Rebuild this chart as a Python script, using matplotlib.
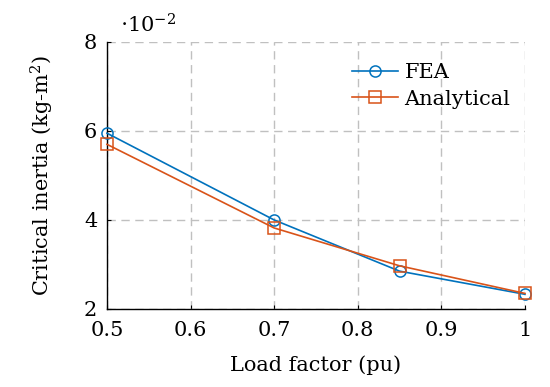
import matplotlib
matplotlib.use("Agg")
import matplotlib.pyplot as plt

load_factor = [0.5, 0.7, 0.85, 1.0]
fea = [5.95, 4.0, 2.85, 2.33]
analytical = [5.7, 3.82, 2.97, 2.35]
xticks = [0.5, 0.6, 0.7, 0.8, 0.9, 1.0]
xticklabels = ["0.5", "0.6", "0.7", "0.8", "0.9", "1"]
yticks = [2, 4, 6, 8]

plt.rcParams['font.family'] = ['DejaVu Serif']
plt.rcParams['mathtext.fontset'] = 'dejavuserif'

FS = 15

fig = plt.figure(figsize=(5.5, 3.87), dpi=100)
ax = fig.add_axes([0.1945, 0.2016, 0.76, 0.69])

ax.plot(load_factor, fea, color='#0072BD', lw=1.2, marker='o', ms=8,
        fillstyle='none', mew=1.1, label='FEA', clip_on=False, zorder=3)
ax.plot(load_factor, analytical, color='#D95319', lw=1.2, marker='s', ms=8,
        fillstyle='none', mew=1.1, label='Analytical', clip_on=False, zorder=3)

ax.set_xlim(0.5, 1.0)
ax.set_ylim(2, 8)
ax.set_xticks(xticks)
ax.set_xticklabels(xticklabels)
ax.set_yticks(yticks)
ax.grid(True, color='#c0c0c0', linestyle=(0, (6, 4)), lw=1.0)
ax.set_axisbelow(True)
for s in ['top', 'right']:
    ax.spines[s].set_visible(False)
for s in ['left', 'bottom']:
    ax.spines[s].set_linewidth(1.0)
ax.tick_params(direction='in', length=3, labelsize=FS)
ax.tick_params(axis='x', pad=9)
ax.tick_params(axis='y', pad=7)

ax.set_xlabel('Load factor (pu)', fontsize=FS, labelpad=11)
ax.set_ylabel('Critical inertia (kg-m$^2$)', fontsize=FS, labelpad=20)
ax.text(0.03, 1.02, r'$\cdot 10^{-2}$', transform=ax.transAxes, fontsize=FS,
        ha='left', va='bottom')

leg = ax.legend(loc='upper right', bbox_to_anchor=(1.01, 0.99), frameon=False,
                fontsize=FS, handlelength=2.2, handletextpad=0.3,
                labelspacing=0.35)

fig.savefig('out.png', dpi=100)
